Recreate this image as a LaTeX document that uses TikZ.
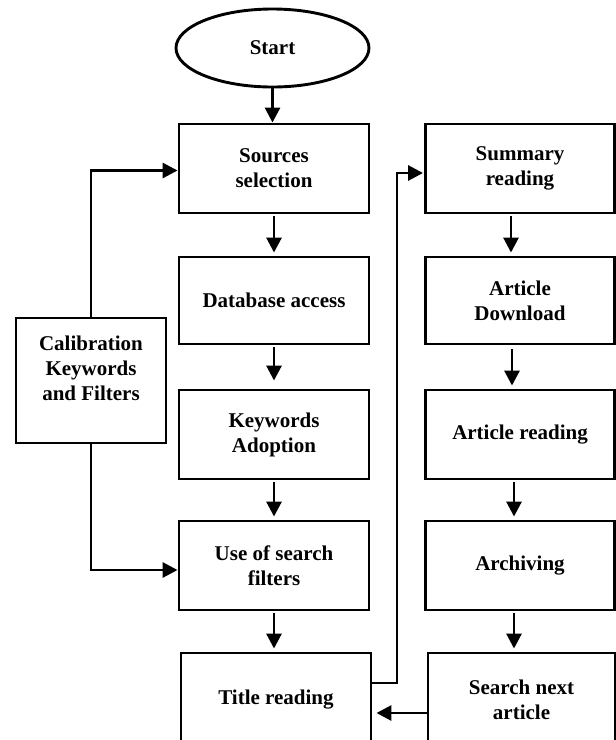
\documentclass[tikz,border=0pt]{standalone}
\usepackage{fontspec}
\setmainfont{Liberation Serif}
\usetikzlibrary{arrows.meta,shapes.geometric,calc}
\newcommand{\fs}{\fontsize{21}{25}\selectfont\bfseries}
\begin{document}
\begin{tikzpicture}[x=1pt,y=-1pt,
  box/.style={draw, line width=2.9pt, rectangle, minimum width=190pt, minimum height=89pt, inner sep=0pt, align=center, font=\fs},
  arr/.style={line width=2.9pt, -{Triangle[length=15pt 0 0,width=15pt 0 0]}, shorten <=2pt, shorten >=3pt},
  ]
\useasboundingbox (0,0) rectangle (616,740);
\clip (0,0) rectangle (616,740);
% left column
\node[ellipse, draw, line width=2.9pt, minimum width=193pt, minimum height=78pt, font=\fs] (start) at (272.5,48) {Start};
\node[box] (src) at (274,168.5) {Sources\\selection};
\node[box, minimum height=87pt] (db) at (274,300.5) {Database access};
\node[box] (kw) at (274,434.5) {Keywords\\Adoption};
\node[box] (use) at (274,565.5) {Use of search\\filters};
\node[box, minimum height=94pt] (ttl) at (276,700) {Title reading};
% right column
\node[box, minimum width=189pt] (sum) at (520,168.5) {Summary\\reading};
\node[box, minimum width=189pt, minimum height=87pt] (dl) at (520,300.5) {Article\\Download};
\node[box, minimum width=189pt] (rd) at (520,434.5) {Article reading};
\node[box, minimum width=189pt] (arc) at (520,565.5) {Archiving};
\node[box, minimum width=187pt, minimum height=94pt] (srch) at (521.5,700) {Search next\\article};
% calibration
\node[box, minimum width=150pt, minimum height=125pt] (cal) at (91,380.5) {};
\node[font=\fs, align=center, inner sep=0pt] (caltxt) at (91,368) {Calibration\\Keywords\\and Filters};
% vertical arrows left
\draw[arr, shorten <=0pt, shorten >=0pt] (start.south) -- (start.south |- src.north);
\draw[arr] (src.south) -- (db.north);
\draw[arr, shorten >=8pt] (db.south) -- (kw.north);
\draw[arr] (kw.south) -- (use.north);
\draw[arr] (use.south) -- (use.south |- ttl.north);
% vertical arrows right
\draw[arr] ([xshift=-9pt]sum.south) -- ([xshift=-9pt]dl.north);
\draw[arr, shorten <=4pt] ([xshift=-8pt]dl.south) -- ([xshift=-8pt]rd.north);
\draw[arr] ([xshift=-6pt]rd.south) -- ([xshift=-6pt]arc.south |- arc.north);
\draw[arr] ([xshift=-6pt]arc.south) -- ([xshift=-6pt]arc.south |- srch.north);
% feedback connectors
\draw[arr, shorten <=0pt, shorten >=0pt] (cal.north) |- ([yshift=-2pt]src.west);
\draw[arr, shorten <=0pt, shorten >=0pt] (cal.south) |- ([yshift=-4.5pt]use.west);
\coordinate (bend) at (397,400);
\draw[arr, shorten <=0pt, shorten >=1pt] ([yshift=17pt]ttl.east) -| (bend) |- ([yshift=-4.5pt]sum.west);
\draw[arr, shorten <=0pt, shorten >=4pt] ([yshift=-13pt]srch.west) -- ([yshift=-13pt]ttl.east);
\end{tikzpicture}
\end{document}
